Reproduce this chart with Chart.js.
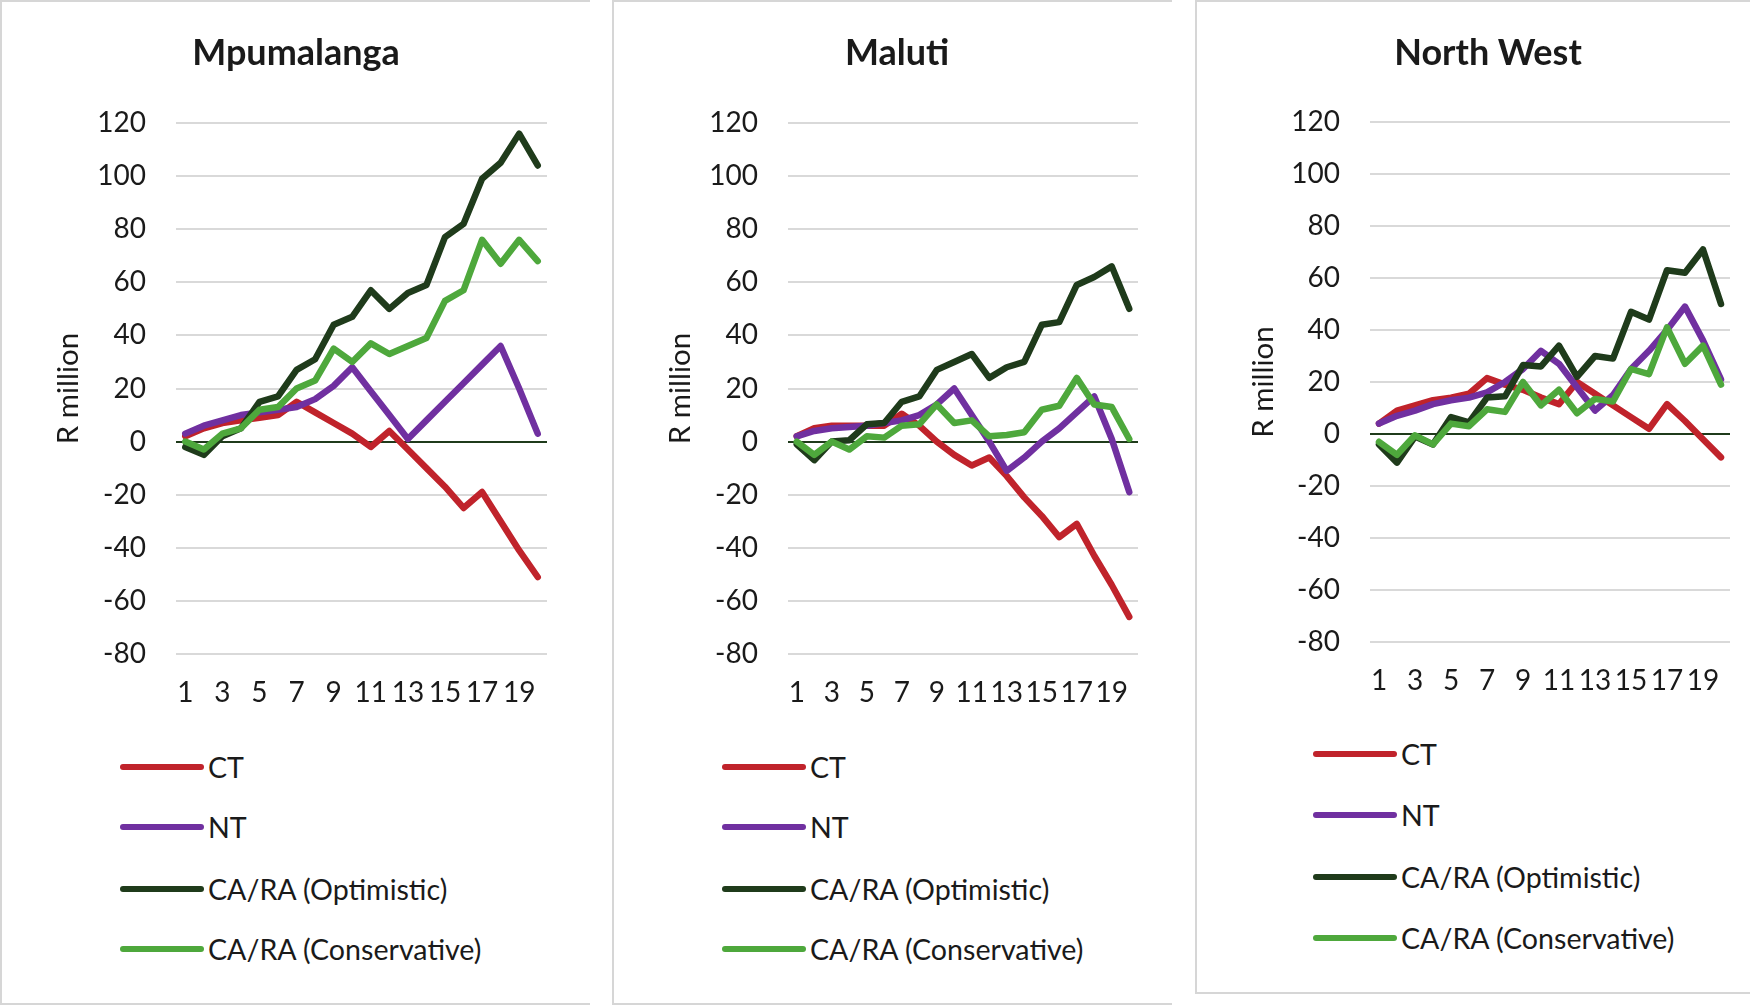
<!DOCTYPE html>
<html>
<head>
<meta charset="utf-8">
<script src="https://cdn.jsdelivr.net/npm/chart.js@4.4.1/dist/chart.umd.min.js"></script>
<style>
  body { margin: 0; width: 1750px; height: 1005px; background: #fff; position: relative; overflow: hidden; font-family: Lato, "Noto Sans", sans-serif; color: #1a1a1a; }
  .panel { position: absolute; top: 0; box-sizing: border-box; border-left: 2px solid #d6d6d6; border-top: 2px solid #d6d6d6; border-bottom: 2px solid #d6d6d6; }
  .title { position: absolute; top: 31px; width: 400px; text-align: center; font-weight: bold; font-size: 36px; line-height: 40px; }
  canvas { position: absolute; top: 0; }
  .item { position: absolute; display: flex; align-items: center; transform: translateY(-50%); font-size: 28.6px; white-space: nowrap; }
  .swatch { display: inline-block; width: 84px; height: 6px; border-radius: 3px; margin-right: 4px; }
</style>
</head>
<body>
<div class="panel" style="left:0;width:590px;height:1005px"></div>
<div class="panel" style="left:612px;width:560px;height:1005px"></div>
<div class="panel" style="left:1195px;width:555px;height:994px"></div>

<canvas id="c1" width="588" height="720" style="left:0"></canvas>
<canvas id="c2" width="560" height="720" style="left:612px"></canvas>
<canvas id="c3" width="555" height="720" style="left:1195px"></canvas>

<script>
// x categories (years 1..20)
const years = ['1', '2', '3', '4', '5', '6', '7', '8', '9', '10',
               '11', '12', '13', '14', '15', '16', '17', '18', '19', '20'];

const seriesNames = ['CT', 'NT', 'CA/RA (Optimistic)', 'CA/RA (Conservative)'];
const seriesColors = ['#c0232b', '#7030a0', '#1f3b1b', '#4ea83c'];

const regionNames = ['Mpumalanga', 'Maluti', 'North West'];
const yAxisLabel = 'R million';
const yMin = -80, yMax = 120, yStep = 20;

// Mpumalanga
const mpCT   = [2, 5, 7, 8, 9, 10, 15, 11, 7, 3, -2, 4, -3, -10, -17, -25, -19, -30, -41, -51];
const mpNT   = [3, 6, 8, 10, 11, 12, 13, 16, 21, 28, 19, 10, 1, 8, 15, 22, 29, 36, 20, 3];
const mpOpt  = [-2, -5, 2, 5, 15, 17, 27, 31, 44, 47, 57, 50, 56, 59, 77, 82, 99, 105, 116, 104];
const mpCons = [0, -3, 3, 5, 12, 13, 20, 23, 35, 30, 37, 33, 36, 39, 53, 57, 76, 67, 76, 68];

// Maluti
const maCT   = [2, 5, 6, 6, 6, 6, 10.5, 6, 0, -5, -9, -6, -13, -21, -28, -36, -31, -43, -54, -66];
const maNT   = [2, 4, 5, 5.5, 6, 7, 8, 10, 14, 20, 10, 0, -11, -6, 0, 5, 11, 17, 1, -19];
const maOpt  = [-1, -7, 0, 0.5, 6.5, 7, 15, 17, 27, 30, 33, 24, 28, 30, 44, 45, 59, 62, 66, 50];
const maCons = [0, -5, 0, -3, 2, 1.5, 6, 6.5, 14, 7, 8, 2, 2.5, 3.5, 12, 13.5, 24, 14, 13, 1];

// North West
const nwCT   = [4, 9, 11, 13, 14, 15.5, 21.5, 19, 17, 14, 11.5, 20, 15.5, 11, 6.5, 2, 11.5, 5, -2, -9];
const nwNT   = [4, 7, 9, 11.5, 13, 14, 16, 20, 25, 32, 27, 18, 9, 15, 25, 32, 40, 49, 36, 21];
const nwOpt  = [-4, -11, -1, -4, 6.5, 4.5, 14, 14.5, 26.5, 26, 34, 22, 30, 29, 47, 44, 63, 62, 71, 50];
const nwCons = [-3, -8, -0.5, -4, 4, 3, 9.5, 8.5, 20, 11, 17, 8, 13.5, 12.5, 25, 23, 41, 27, 34, 19];

const regionSeries = [
  [mpCT, mpNT, mpOpt, mpCons],
  [maCT, maNT, maOpt, maCons],
  [nwCT, nwNT, nwOpt, nwCons]
];

// page layout for each panel (canvas coords)
const layouts = [
  { canvas: 'c1', yAxisW: 176, pad: { top: 123, right: 41, bottom: 6,  left: 0 }, titleX: 296,  legendX: 120,  legendY: [767, 827, 889, 949] },
  { canvas: 'c2', yAxisW: 176, pad: { top: 123, right: 34, bottom: 6,  left: 0 }, titleX: 897,  legendX: 722,  legendY: [767, 827, 889, 949] },
  { canvas: 'c3', yAxisW: 175, pad: { top: 122, right: 20, bottom: 18, left: 0 }, titleX: 1488, legendX: 1313, legendY: [754, 815, 877, 938] }
];

Chart.defaults.font.family = 'Lato, "Noto Sans", sans-serif';
Chart.defaults.color = '#1a1a1a';

function drawPanel(idx) {
  const lay = layouts[idx];
  const series = regionSeries[idx];

  new Chart(document.getElementById(lay.canvas), {
    type: 'line',
    data: {
      labels: years,
      datasets: series.map((vals, i) => ({
        label: seriesNames[i],
        data: vals,
        borderColor: seriesColors[i],
        backgroundColor: seriesColors[i],
        borderWidth: 6.5,
        borderCapStyle: 'round',
        borderJoinStyle: 'round',
        pointRadius: 0,
        tension: 0,
        order: seriesNames.length - i
      }))
    },
    options: {
      responsive: false,
      animation: false,
      devicePixelRatio: 1,
      layout: { padding: lay.pad },
      plugins: { legend: { display: false }, tooltip: { enabled: false } },
      scales: {
        x: {
          offset: true,
          grid: { display: false },
          border: { display: false },
          ticks: {
            autoSkip: false,
            maxRotation: 0,
            padding: 14,
            font: { size: 28 },
            callback: (v, i) => (i % 2 === 0 ? years[i] : '')
          },
          afterFit: s => { s.height = 60; }
        },
        y: {
          min: yMin,
          max: yMax,
          border: { display: false },
          grid: {
            drawTicks: false,
            lineWidth: 2,
            color: c => (c.tick && c.tick.value === 0 ? '#1f3b1b' : '#d9d9d9')
          },
          ticks: { stepSize: yStep, padding: 30, font: { size: 28 } },
          title: { display: true, text: yAxisLabel, font: { size: 29.5 }, padding: { top: 51, bottom: 0 } },
          afterFit: s => { s.width = lay.yAxisW; }
        }
      }
    }
  });

  // title
  const t = document.createElement('div');
  t.className = 'title';
  t.style.left = (lay.titleX - 200) + 'px';
  t.textContent = regionNames[idx];
  document.body.appendChild(t);

  // legend, one entry per row like the Excel original
  seriesNames.forEach((name, i) => {
    const item = document.createElement('div');
    item.className = 'item';
    item.style.left = lay.legendX + 'px';
    item.style.top = lay.legendY[i] + 'px';
    const sw = document.createElement('span');
    sw.className = 'swatch';
    sw.style.background = seriesColors[i];
    const lbl = document.createElement('span');
    lbl.textContent = name;
    item.appendChild(sw);
    item.appendChild(lbl);
    document.body.appendChild(item);
  });
}

regionSeries.forEach((_, i) => drawPanel(i));
</script>
</body>
</html>
